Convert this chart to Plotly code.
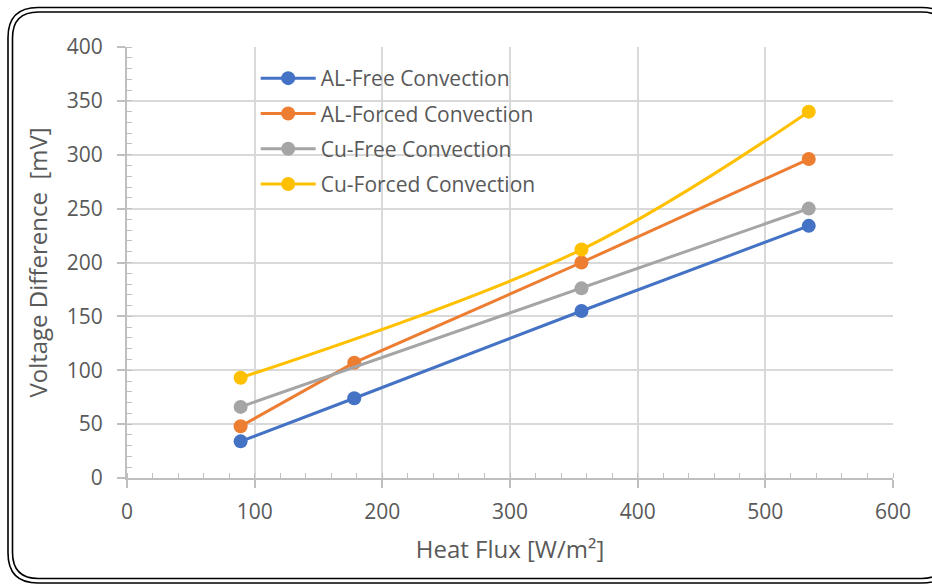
import plotly.graph_objects as go

# Heat flux [W/m^2] and measured voltage difference [mV] per configuration
al_free_x = [89, 178, 356, 534]
al_free_y = [34, 74, 155, 234]

al_forced_x = [89, 178, 356, 534]
al_forced_y = [48, 107, 200, 296]

cu_free_x = [89, 356, 534]
cu_free_y = [66, 176, 250]

cu_forced_x = [89, 356, 534]
cu_forced_y = [93, 212, 340]

series_names = ["AL-Free Convection", "AL-Forced Convection",
                "Cu-Free Convection", "Cu-Forced Convection"]
colors = ["#4472C4", "#ED7D31", "#A5A5A5", "#FFC000"]
shapes_line = ["linear", "linear", "linear", "spline"]

x_ticks = [0, 100, 200, 300, 400, 500, 600]
y_ticks = [0, 50, 100, 150, 200, 250, 300, 350, 400]

W, H = 932, 585
L, R, T, B = 127, 39, 47, 107
pw, ph = W - L - R, H - T - B

FONT = "Open Sans"
TXT = "#595959"

fig = go.Figure()
data = [(al_free_x, al_free_y), (al_forced_x, al_forced_y),
        (cu_free_x, cu_free_y), (cu_forced_x, cu_forced_y)]
for i, ((xs, ys), name) in enumerate(zip(data, series_names)):
    fig.add_trace(go.Scatter(
        x=xs, y=ys, name=name, mode="lines+markers",
        legendgroup=f"g{i}",
        line=dict(color=colors[i], width=3, shape=shapes_line[i], smoothing=1.0),
        marker=dict(color=colors[i], size=14),
    ))


def px_to_paper(px, py):
    return (px - L) / pw, (T + ph - py) / ph


def rounded_rect(x0, y0, x1, y1, r):
    def p(x, y):
        a, b = px_to_paper(x, y)
        return f"{a:.5f},{b:.5f}"
    return (f"M {p(x0 + r, y0)} L {p(x1 - r, y0)} Q {p(x1, y0)} {p(x1, y0 + r)} "
            f"L {p(x1, y1 - r)} Q {p(x1, y1)} {p(x1 - r, y1)} "
            f"L {p(x0 + r, y1)} Q {p(x0, y1)} {p(x0, y1 - r)} "
            f"L {p(x0, y0 + r)} Q {p(x0, y0)} {p(x0 + r, y0)} Z")


# double-lined rounded frame around the chart
shapes = []
for (x0, y0, x1, y1, r) in [(8, 7.5, 952, 583, 30), (12.5, 12, 947.5, 578.5, 26)]:
    shapes.append(dict(type="path", xref="paper", yref="paper",
                       path=rounded_rect(x0, y0, x1, y1, r),
                       line=dict(color="black", width=1.6), layer="above"))

fig.update_layout(
    width=W, height=H,
    margin=dict(l=L, r=R, t=T, b=B),
    paper_bgcolor="white", plot_bgcolor="white",
    font=dict(family=FONT, size=21, color=TXT),
    shapes=shapes,
    showlegend=True,
    legend=dict(x=0.168, y=0.9745, xanchor="left", yanchor="top",
                bgcolor="rgba(0,0,0,0)", font=dict(size=21, color=TXT),
                tracegroupgap=5, traceorder="grouped", itemwidth=55),
    xaxis=dict(
        range=[0, 600], tickvals=x_ticks, ticktext=[str(v) for v in x_ticks],
        showgrid=True, gridcolor="#D9D9D9", gridwidth=1.5,
        showline=True, linecolor="#BFBFBF", linewidth=2,
        ticks="outside", ticklen=8, tickwidth=1.5, tickcolor="#BFBFBF",
        ticklabelstandoff=6,
        minor=dict(dtick=20, ticks="inside", ticklen=5, tickwidth=1.3,
                   tickcolor="#BFBFBF", showgrid=False),
        zeroline=False,
        title=dict(text="Heat Flux [W/m²]", font=dict(size=24, color=TXT),
                   standoff=17),
        tickfont=dict(size=21, color=TXT),
    ),
    yaxis=dict(
        range=[0, 400], tickvals=y_ticks, ticktext=[str(v) for v in y_ticks],
        showgrid=True, gridcolor="#D9D9D9", gridwidth=1.5,
        showline=True, linecolor="#BFBFBF", linewidth=2,
        ticks="outside", ticklen=8, tickwidth=1.5, tickcolor="#BFBFBF",
        ticklabelstandoff=10,
        minor=dict(dtick=10, ticks="inside", ticklen=5, tickwidth=1.3,
                   tickcolor="#BFBFBF", showgrid=False),
        zeroline=False,
        title=dict(text="Voltage Difference\u00a0 [mV]", font=dict(size=24, color=TXT),
                   standoff=12),
        tickfont=dict(size=21, color=TXT),
    ),
)

fig.write_html("out.html")
